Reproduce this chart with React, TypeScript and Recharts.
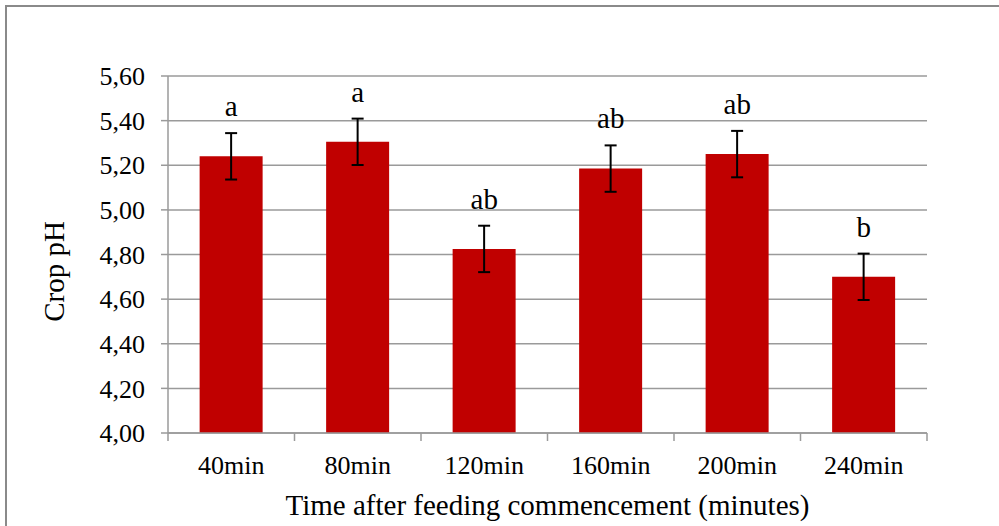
import React from 'react';
import { ComposedChart, Bar, Line, XAxis, YAxis, CartesianGrid, ErrorBar, LabelList } from 'recharts';

const categories = ['40min', '80min', '120min', '160min', '200min', '240min'];
const meanPh = [5.24, 5.305, 4.825, 5.185, 5.25, 4.7];
const stdErr = [0.104, 0.104, 0.104, 0.104, 0.104, 0.104];
const letters = ['a', 'a', 'ab', 'ab', 'ab', 'b'];
const yTicks = [4.0, 4.2, 4.4, 4.6, 4.8, 5.0, 5.2, 5.4, 5.6];

const data = categories.map((name, i) => ({
    name,
    ph: meanPh[i],
    err: stdErr[i],
    top: meanPh[i] + stdErr[i],
    letter: letters[i],
}));

const W = 999;
const H = 526;
const PLOT_LEFT = 168;
const PLOT_RIGHT = 927;
const BAND = (PLOT_RIGHT - PLOT_LEFT) / categories.length;
const GRAY = '#9a9a9a';
const FONT = '"Liberation Serif", "Times New Roman", serif';

const XTick = (props: any) => {
    const { x, y, payload, index } = props;
    return (
        <g>
            {index === 0 && <line x1={x - BAND / 2} x2={x - BAND / 2} y1={y} y2={y + 8} stroke={GRAY} strokeWidth={1.5} />}
            <line x1={x + BAND / 2} x2={x + BAND / 2} y1={y} y2={y + 8} stroke={GRAY} strokeWidth={1.5} />
            <text x={x} y={y + 41} textAnchor="middle" fontSize={26} fill="#000" fontFamily={FONT}>
                {payload.value}
            </text>
        </g>
    );
};

const App = () => {
    return (
        <div style={{ position: 'fixed', left: 0, top: 0, width: W, height: H, overflow: 'hidden', background: '#fff' }}>
            <div style={{ position: 'absolute', left: 5, top: 5, width: 1100, height: 700, border: '2px solid #8a8a8a' }} />
            <div style={{ position: 'absolute', left: 0, top: 0 }}>
                <ComposedChart
                    width={W}
                    height={H}
                    data={data}
                    margin={{ top: 76, right: W - PLOT_RIGHT, left: 0, bottom: 0 }}
                    barCategoryGap="25%"
                    style={{ fontFamily: FONT }}
                >
                    <CartesianGrid vertical={false} stroke={GRAY} strokeWidth={1.5} />
                    <XAxis
                        dataKey="name"
                        height={93}
                        interval={0}
                        tickSize={0}
                        tickMargin={0}
                        tickLine={false}
                        axisLine={{ stroke: GRAY, strokeWidth: 1.5 }}
                        tick={<XTick />}
                        label={{
                            content: ({ viewBox }: any) => (
                                <text
                                    x={viewBox.x + viewBox.width / 2}
                                    y={515}
                                    textAnchor="middle"
                                    fontSize={29}
                                    fill="#000"
                                    fontFamily={FONT}
                                >
                                    Time after feeding commencement (minutes)
                                </text>
                            ),
                        }}
                    />
                    <YAxis
                        width={PLOT_LEFT}
                        domain={[4, 5.6]}
                        ticks={yTicks}
                        interval={0}
                        tickSize={7}
                        tickMargin={16}
                        tickLine={{ stroke: GRAY, strokeWidth: 1.5 }}
                        axisLine={{ stroke: GRAY, strokeWidth: 1.5 }}
                        tick={{ fontSize: 26, fill: '#000', fontFamily: FONT }}
                        tickFormatter={(v: number) => v.toFixed(2).replace('.', ',')}
                        label={{
                            content: ({ viewBox }: any) => {
                                const cx = 54;
                                const cy = viewBox.y + viewBox.height / 2 + 17;
                                return (
                                    <text
                                        x={cx}
                                        y={cy}
                                        transform={`rotate(-90 ${cx} ${cy})`}
                                        textAnchor="middle"
                                        dominantBaseline="central"
                                        fontSize={29}
                                        fill="#000"
                                        fontFamily={FONT}
                                    >
                                        Crop pH
                                    </text>
                                );
                            },
                        }}
                    />
                    <Bar dataKey="ph" fill="#C00000" isAnimationActive={false}>
                        <ErrorBar dataKey="err" width={6} stroke="#000" strokeWidth={2} />
                    </Bar>
                    <Line
                        dataKey="top"
                        stroke="none"
                        dot={false}
                        activeDot={false}
                        isAnimationActive={false}
                    >
                        <LabelList dataKey="letter" position="top" offset={17} fontSize={29} fill="#000" fontFamily={FONT} />
                    </Line>
                </ComposedChart>
            </div>
        </div>
    );
};

export default App;
